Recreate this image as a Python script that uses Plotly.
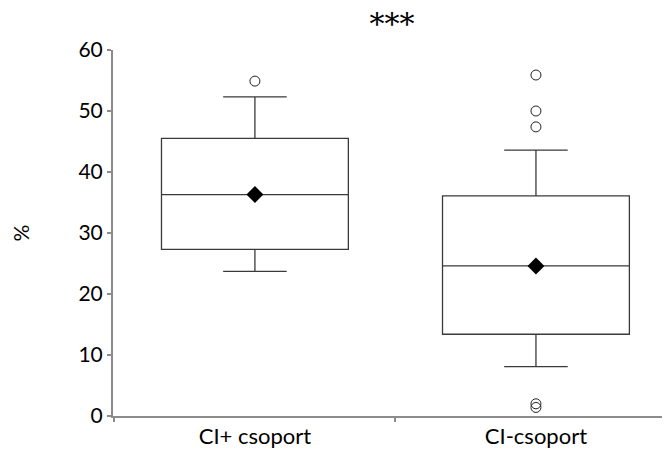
import plotly.graph_objects as go

categories = ["CI+ csoport", "CI-csoport"]
q1 = [27.3, 13.4]
median = [36.3, 24.6]
q3 = [45.5, 36.1]
lower_whisker = [23.7, 8.1]
upper_whisker = [52.3, 43.6]
means = [36.3, 24.6]

outlier_groups = ["CI+ csoport", "CI-csoport", "CI-csoport", "CI-csoport", "CI-csoport", "CI-csoport"]
outlier_values = [54.9, 55.9, 50.0, 47.4, 2.0, 1.4]

y_ticks = [0, 10, 20, 30, 40, 50, 60]

fig = go.Figure()

fig.add_trace(go.Box(
    x=categories,
    q1=q1, median=median, q3=q3,
    lowerfence=lower_whisker, upperfence=upper_whisker,
    boxpoints=False,
    width=0.665,
    whiskerwidth=0.34,
    fillcolor="white",
    line=dict(color="#3a3a3a", width=1.3),
    showlegend=False,
    hoverinfo="y",
))

fig.add_trace(go.Scatter(
    x=outlier_groups, y=outlier_values,
    mode="markers",
    marker=dict(symbol="circle-open", size=10, color="#222222", line=dict(width=1)),
    showlegend=False,
))

fig.add_trace(go.Scatter(
    x=categories, y=means,
    mode="markers",
    marker=dict(symbol="diamond", size=13, color="black"),
    showlegend=False,
))

# page body has an 8px margin, so the figure is sized/offset to compensate
fig.update_layout(
    width=662, height=442,
    margin=dict(l=105, r=0, t=42, b=34),
    paper_bgcolor="white", plot_bgcolor="white",
    font=dict(family="Lato, Open Sans, sans-serif", size=20, color="black"),
    title=dict(text="***", x=0.58, xanchor="center", y=0.965, yanchor="middle",
               font=dict(family="DejaVu Serif, serif", size=30, color="black")),
    xaxis=dict(
        type="category",
        range=[-0.505, 1.477],
        showline=True, linecolor="#8c8c8c", linewidth=2,
        tickson="boundaries", ticks="outside", ticklen=4, tickcolor="#8c8c8c", tickwidth=2,
        showgrid=False, zeroline=False,
        tickfont=dict(size=22),
    ),
    yaxis=dict(
        range=[0, 60],
        tickvals=y_ticks,
        showline=True, linecolor="#8c8c8c", linewidth=2,
        ticks="outside", ticklen=4, tickcolor="#8c8c8c", tickwidth=2,
        showgrid=False, zeroline=False,
        tickfont=dict(size=21),
        title=dict(text="%", standoff=48, font=dict(size=21)),
    ),
)

fig.write_html("out.html")
